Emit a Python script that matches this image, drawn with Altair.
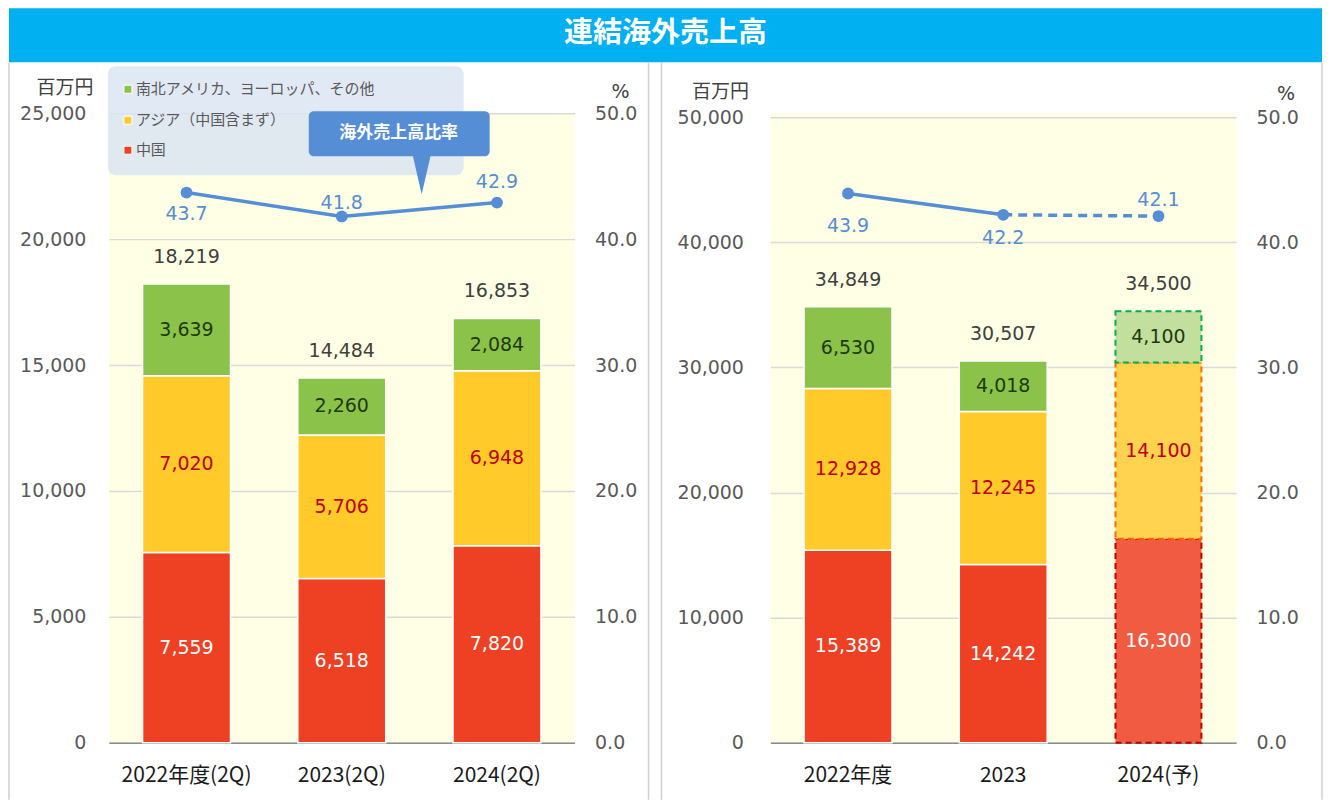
import altair as alt
import pandas as pd

TITLE = "連結海外売上高"
CALLOUT = "海外売上高比率"
UNIT_LEFT = "百万円"
UNIT_RIGHT = "%"
SEGMENTS = ["中国", "アジア（中国含まず）", "南北アメリカ、ヨーロッパ、その他"]

left_periods = ["2022年度(2Q)", "2023(2Q)", "2024(2Q)"]
left_china = [7559, 6518, 7820]
left_asia = [7020, 5706, 6948]
left_other = [3639, 2260, 2084]
left_total = [18219, 14484, 16853]
left_ratio = [43.7, 41.8, 42.9]
left_forecast = [False, False, False]

right_periods = ["2022年度", "2023", "2024(予)"]
right_china = [15389, 14242, 16300]
right_asia = [12928, 12245, 14100]
right_other = [6530, 4018, 4100]
right_total = [34849, 30507, 34500]
right_ratio = [43.9, 42.2, 42.1]
right_forecast = [False, False, True]

left_yticks = [0, 5000, 10000, 15000, 20000, 25000]
right_yticks = [0, 10000, 20000, 30000, 40000, 50000]
ratio_ticks = [0, 10, 20, 30, 40, 50]

# ---------------- styles ----------------
JP = "Noto Sans CJK JP"
NUM = "DejaVu Sans"
SEG_COLORS = ["#EE4023", "#FFCA2A", "#8BC34A"]
SEG_FC_COLORS = ["#F05B42", "#FFD34F", "#C3DF9E"]
SEG_FC_STROKE = ["#C00000", "#FF6A00", "#00B050"]
SEG_TEXT = ["#FFFFFF", "#C00000", "#1E3A0C"]
LINE_COLOR = "#558ED5"
PLOT_BG = "#FFFFE5"
PLOT_W = 466
PLOT_H = 630
GAP = 196
RIGHT_STRETCH = 630 / 626  # right panel's axes span 626px inside a 630px view

dummy = pd.DataFrame({"d": [0]})


def bar_frame(periods, seg_values, forecast):
    rows = []
    for i, p in enumerate(periods):
        lo = 0
        for seg, vals in zip(SEGMENTS, seg_values):
            v = vals[i]
            rows.append(dict(period=p, seg=seg, lo=lo, hi=lo + v, mid=lo + v / 2,
                             value=v, fc=forecast[i],
                             key=seg + ("予" if forecast[i] else "")))
            lo += v
    return pd.DataFrame(rows)


def panel(periods, china, asia, other, total, ratio, forecast, yticks, ymax, stretch,
          ylabel_pad, ratio_dy, dashed_from, deco):
    bars = bar_frame(periods, [china, asia, other], forecast)
    tops = pd.DataFrame({"period": periods,
                         "top": [c + a + o for c, a, o in zip(china, asia, other)],
                         "total": total})
    line = pd.DataFrame({"period": periods, "ratio": ratio, "idx": list(range(len(periods)))})

    x = alt.X("period:N", sort=periods,
              scale=alt.Scale(paddingInner=0, paddingOuter=0),
              axis=alt.Axis(title=None, labelAngle=0, labelFont=JP, labelFontSize=21,
                            labelColor="#1A1A1A", labelPadding=22, ticks=False,
                            domainColor="#8C8C8C", domainWidth=1.5, grid=False))
    yscale = alt.Scale(domain=[0, ymax * stretch], nice=False, zero=True)
    yaxis = alt.Axis(title=None, values=yticks, format=",d", labelFont=NUM,
                     labelFontSize=19, labelColor="#595959", labelPadding=ylabel_pad,
                     ticks=False, domain=False, grid=True, gridColor="#D9D9D9",
                     gridWidth=1.5)
    fill = alt.Fill("key:N", legend=None,
                    scale=alt.Scale(domain=SEGMENTS + [s + "予" for s in SEGMENTS],
                                    range=SEG_COLORS + SEG_FC_COLORS))

    actual = alt.Chart(bars).transform_filter("!datum.fc").mark_bar(
        width=88, stroke="white", strokeWidth=1.5).encode(
        x=x, y=alt.Y("lo:Q", scale=yscale, axis=yaxis), y2="hi:Q", fill=fill)
    fc = alt.Chart(bars).transform_filter("datum.fc").mark_bar(
        width=86, strokeWidth=2, strokeDash=[6, 4]).encode(
        x=x, y=alt.Y("lo:Q", scale=yscale, axis=yaxis), y2="hi:Q", fill=fill,
        stroke=alt.Stroke("seg:N", legend=None,
                          scale=alt.Scale(domain=SEGMENTS, range=SEG_FC_STROKE)))
    seg_text = alt.Chart(bars).mark_text(font=NUM, fontSize=19, baseline="middle").encode(
        x=x, y=alt.Y("mid:Q", scale=yscale, axis=yaxis),
        text=alt.Text("value:Q", format=",d"),
        color=alt.Color("seg:N", legend=None,
                        scale=alt.Scale(domain=SEGMENTS, range=SEG_TEXT)))
    tot_text = alt.Chart(tops).mark_text(font=NUM, fontSize=19, baseline="middle",
                                         dy=-27, color="#404040").encode(
        x=x, y=alt.Y("top:Q", scale=yscale, axis=yaxis),
        text=alt.Text("total:Q", format=",d"))

    rscale = alt.Scale(domain=[0, 50 * stretch], nice=False)
    raxis = alt.Axis(orient="right", title=None, values=ratio_ticks, format=".1f",
                     labelFont=NUM, labelFontSize=19, labelColor="#595959",
                     labelPadding=20, ticks=False, domain=False, grid=False)
    yr = alt.Y("ratio:Q", scale=rscale, axis=raxis)

    solid = alt.Chart(line).transform_filter(f"datum.idx <= {dashed_from}").mark_line(
        color=LINE_COLOR, strokeWidth=3.5).encode(x=x, y=yr)
    line_layers = [solid]
    if dashed_from < len(periods) - 1:
        dashed = alt.Chart(line).transform_filter(f"datum.idx >= {dashed_from}").mark_line(
            color=LINE_COLOR, strokeWidth=3.5, strokeDash=[9, 6]).encode(x=x, y=yr)
        line_layers.append(dashed)
    pts = alt.Chart(line).mark_circle(color=LINE_COLOR, size=140, opacity=1).encode(x=x, y=yr)
    line_layers.append(pts)
    for i, dy in enumerate(ratio_dy):
        line_layers.append(
            alt.Chart(line).transform_filter(f"datum.idx == {i}").mark_text(
                font=NUM, fontSize=19, color=LINE_COLOR, baseline="middle", dy=dy).encode(
                x=x, y=yr, text=alt.Text("ratio:Q", format=".1f")))

    # decorations: card borders, unit labels
    decos = []
    for bx in deco["borders"]:
        decos.append(alt.Chart(dummy).mark_rule(color="#D0D0D0", strokeWidth=1.5).encode(
            x=alt.value(bx), y=alt.value(-51), y2=alt.value(PLOT_H + 57)))
    decos.append(alt.Chart(dummy).mark_text(font=JP, fontSize=19, color="#404040",
                                            baseline="middle").encode(
        x=alt.value(deco["unit_l"][0]), y=alt.value(deco["unit_l"][1]),
        text=alt.value(UNIT_LEFT)))
    decos.append(alt.Chart(dummy).mark_text(font=NUM, fontSize=19, color="#404040",
                                            baseline="middle").encode(
        x=alt.value(deco["unit_r"][0]), y=alt.value(deco["unit_r"][1]),
        text=alt.value(UNIT_RIGHT)))

    extra = []
    if deco.get("legend"):
        extra.append(alt.Chart(dummy).mark_rect(fill="#D9E3F3", opacity=0.8,
                                                cornerRadius=8).encode(
            x=alt.value(-1), x2=alt.value(355), y=alt.value(-47), y2=alt.value(62)))
        rows_y = [37, 7, -24]
        for seg, col, yy in zip(SEGMENTS, SEG_COLORS, rows_y):
            extra.append(alt.Chart(dummy).mark_square(size=64, fill=col, opacity=1,
                                                      stroke="white", strokeWidth=1).encode(
                x=alt.value(19), y=alt.value(yy)))
            extra.append(alt.Chart(dummy).mark_text(font=JP, fontSize=15, color="#595959",
                                                    align="left", baseline="middle").encode(
                x=alt.value(27), y=alt.value(yy), text=alt.value(seg)))
        extra.append(alt.Chart(dummy).mark_rect(fill=LINE_COLOR, cornerRadius=5).encode(
            x=alt.value(200), x2=alt.value(381), y=alt.value(-2), y2=alt.value(43)))
        extra.append(alt.Chart(dummy).mark_point(shape="M -1 0 L 1 0 L 0 4.33 Z",
                                                 filled=True, size=324, fill=LINE_COLOR,
                                                 opacity=1, strokeWidth=0).encode(
            x=alt.value(313), y=alt.value(42)))
        extra.append(alt.Chart(dummy).mark_text(font=JP, fontSize=17, fontWeight="bold",
                                                color="white", baseline="middle").encode(
            x=alt.value(290), y=alt.value(20), text=alt.value(CALLOUT)))

    bar_layer = alt.layer(actual, fc, seg_text, tot_text, *extra)
    line_layer = alt.layer(*line_layers)
    deco_layer = alt.layer(*decos)
    return alt.layer(deco_layer, bar_layer, line_layer).resolve_scale(y="independent").properties(
        width=PLOT_W, height=PLOT_H,
        view=alt.ViewBackground(fill=PLOT_BG, stroke=None))


left = panel(left_periods, left_china, left_asia, left_other, left_total, left_ratio,
             left_forecast, left_yticks, 25000, 1.0, 23, [21, -13, -21], 2,
             dict(borders=[-100, 540], unit_l=(-44, -25), unit_r=(512, -21), legend=True))
right = panel(right_periods, right_china, right_asia, right_other, right_total, right_ratio,
              right_forecast, right_yticks, 50000, RIGHT_STRETCH, 27, [32, 23, -16], 1,
              dict(borders=[-109, 552], unit_l=(-50, -21), unit_r=(516, -19)))

banner = alt.layer(
    alt.Chart(dummy).mark_rect(color="#00B0F0").encode(
        x=alt.value(-100), x2=alt.value(1214), y=alt.value(0), y2=alt.value(54)),
    alt.Chart(dummy).mark_text(font=JP, fontSize=29, fontWeight="bold", color="white",
                               baseline="middle").encode(
        x=alt.value(557), y=alt.value(25), text=alt.value(TITLE)),
).properties(width=PLOT_W, height=54, view=alt.ViewBackground(stroke=None))

chart = alt.vconcat(
    banner,
    alt.hconcat(left, right, spacing=GAP, bounds="flush"),
    spacing=51, bounds="flush",
).properties(padding=0, background="white").configure_view(stroke=None)

chart.save("out.html", embed_options={"renderer": "svg", "actions": False})
